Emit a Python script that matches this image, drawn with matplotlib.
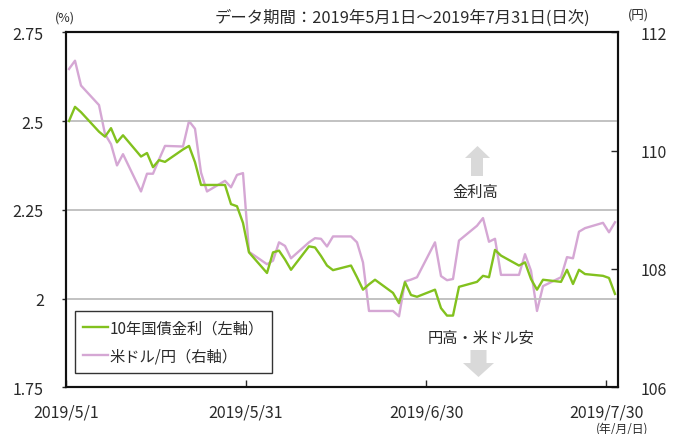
import matplotlib
matplotlib.use('Agg')
import matplotlib.pyplot as plt
from matplotlib.patches import Polygon
import pandas as pd

plt.rcParams['font.family'] = ['Noto Sans CJK JP', 'DejaVu Sans']

# weekdays 2019/5/1 - 2019/7/31
dates = pd.bdate_range('2019-05-01', '2019-07-31') + pd.Timedelta(hours=12)

# 10-year yield (%), left axis
yield10 = [
    2.50, 2.54, 2.525, 2.47, 2.456, 2.48, 2.44, 2.46, 2.40, 2.41, 2.37, 2.39, 2.385,
    2.42, 2.43, 2.384, 2.32, 2.32, 2.32, 2.266, 2.26, 2.213, 2.13,
    2.072, 2.13, 2.135, 2.11, 2.081, 2.147, 2.144, 2.12, 2.093, 2.08, 2.093, 2.06,
    2.025, 2.04, 2.053, 2.016, 1.987, 2.046, 2.01, 2.005,
    2.025, 1.973, 1.952, 1.952, 2.033, 2.047, 2.064, 2.06, 2.137, 2.121, 2.093,
    2.102, 2.055, 2.025, 2.053, 2.047, 2.081, 2.041, 2.081, 2.069, 2.064, 2.058, 2.013,
]

# USD/JPY, right axis
usdjpy = [
    111.38, 111.52, 111.10, 110.77, 110.28, 110.11, 109.75, 109.94, 109.31, 109.61,
    109.61, 109.85, 110.08, 110.07, 110.50, 110.37, 109.63, 109.31, 109.49, 109.38,
    109.59, 109.62, 108.29,
    108.08, 108.14, 108.45, 108.39, 108.18, 108.45, 108.52, 108.51, 108.38, 108.55,
    108.55, 108.45, 108.11, 107.29, 107.29, 107.29, 107.20, 107.79, 107.82, 107.86,
    108.45, 107.88, 107.81, 107.83, 108.48, 108.73, 108.86, 108.46, 108.51, 107.90,
    107.90, 108.25, 107.97, 107.29, 107.71, 107.86, 108.20, 108.18, 108.63, 108.69,
    108.78, 108.62, 108.79,
]

left_ticks = [1.75, 2.0, 2.25, 2.5, 2.75]
left_labels = ['1.75', '2', '2.25', '2.5', '2.75']
right_ticks = [106, 108, 110, 112]
x_ticks = ['2019-05-01', '2019-05-31', '2019-06-30', '2019-07-30']
x_labels = ['2019/5/1', '2019/5/31', '2019/6/30', '2019/7/30']

green = '#82c11e'
pink = '#d5a7d4'
grid_c = '#bdbdbd'
txt = '#2a2a2a'

fig = plt.figure(figsize=(6.81, 4.35), dpi=100)
ax = fig.add_axes([66 / 681, 1 - 388.3 / 435, 552 / 681, 355 / 435])
ax2 = ax.twinx()

ax.set_zorder(2)
ax.patch.set_visible(False)

for y in [2.0, 2.25, 2.5]:
    ax.axhline(y, color=grid_c, lw=1.3, zorder=0)

l1, = ax.plot(dates, yield10, color=green, lw=1.7, zorder=3, label='10年国債金利（左軸）')
l2, = ax2.plot(dates, usdjpy, color=pink, lw=1.7, label='米ドル/円（右軸）')

ax.set_xlim(pd.Timestamp('2019-05-01'), pd.Timestamp('2019-08-01'))
ax.set_ylim(1.75, 2.75)
ax2.set_ylim(106, 112)

ax.set_yticks(left_ticks)
ax.set_yticklabels(left_labels)
ax2.set_yticks(right_ticks)
ax2.set_yticklabels([str(t) for t in right_ticks])
ax.set_xticks([pd.Timestamp(t) for t in x_ticks])
ax.set_xticklabels(x_labels)

ax.tick_params(axis='y', direction='out', length=3, width=1, pad=13, labelsize=11.5, colors=txt)
ax.tick_params(axis='x', direction='in', length=5, width=1, pad=12, labelsize=11.5, colors=txt)
ax2.tick_params(axis='y', direction='in', length=5, width=1, pad=16, labelsize=11.5, colors=txt)
for t in ax2.get_yticklabels():
    t.set_horizontalalignment('left')

for a in (ax, ax2):
    for s in a.spines.values():
        s.set_color('#111111')
        s.set_linewidth(1.5)

leg = ax.legend(handles=[l1, l2], loc='lower left', bbox_to_anchor=(0.016, 0.04),
                borderaxespad=0, fontsize=11, handlelength=1.6, handletextpad=0.1,
                labelspacing=0.75, borderpad=0.55, fancybox=False, framealpha=1)
leg.get_frame().set_edgecolor('#333333')
leg.get_frame().set_linewidth(1.0)
for t in leg.get_texts():
    t.set_color(txt)
leg.set_zorder(5)

fig.text(55 / 681, 1 - 18 / 435, '(%)', fontsize=9, ha='left', va='center', color=txt)
fig.text(628 / 681, 1 - 15 / 435, '(円)', fontsize=9, ha='left', va='center', color=txt)
fig.text(402 / 681, 1 - 18 / 435, 'データ期間：2019年5月1日～2019年7月31日(日次)',
         fontsize=11.8, ha='center', va='center', color=txt)
fig.text(622 / 681, 1 - 429.5 / 435, '(年/月/日)', fontsize=8.5, ha='center', va='center', color=txt)

# direction hints
fig.text(475 / 681, 1 - 192 / 435, '金利高', fontsize=11, ha='center', va='center', color=txt)
fig.text(481 / 681, 1 - 338 / 435, '円高・米ドル安', fontsize=11, ha='center', va='center', color=txt)

def px(pts):
    return [(x / 681, 1 - y / 435) for x, y in pts]

up = px([(477.5, 147), (490, 159), (483, 159), (483, 177), (471, 177), (471, 159), (465, 159)])
down = px([(478.5, 378), (494, 364), (486.5, 364), (486.5, 351), (470.5, 351), (470.5, 364), (463, 364)])
for p in (up, down):
    fig.patches.append(Polygon(p, closed=True, transform=fig.transFigure,
                               facecolor='#d9d9d9', edgecolor='none'))

fig.savefig('out.png', dpi=100)
